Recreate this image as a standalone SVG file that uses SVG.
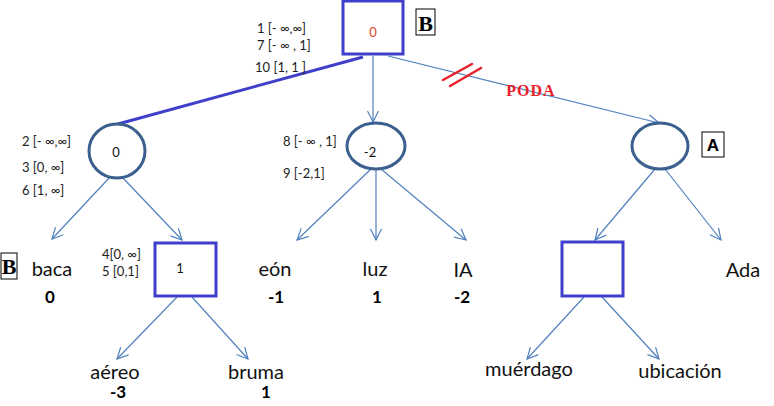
<svg xmlns="http://www.w3.org/2000/svg" width="774" height="406" viewBox="0 0 774 406">
<style>
.lbl{font-family:Lato,"Liberation Sans",sans-serif;font-size:20px;fill:#111}
.val{font-family:Lato,"Liberation Sans",sans-serif;font-size:17px;font-weight:bold;fill:#000}
.sm{font-family:Lato,"Liberation Sans",sans-serif;font-size:13px;fill:#222}
.nv{font-family:Lato,"Liberation Sans",sans-serif;font-size:13px;fill:#111}
.circ{fill:#fff;stroke:#3b5f8e;stroke-width:3}
.sq{fill:#fff;stroke:#3f3fcc;stroke-width:3}
.edge{stroke:#4f81bd;stroke-width:1.2;fill:none;marker-end:url(#arr)}
.tag{fill:#fff;stroke:#000;stroke-width:1}
.tagB{font-family:"Liberation Serif",serif;font-weight:bold;font-size:22px;fill:#000}
</style>
<defs>
<marker id="arr" markerWidth="14" markerHeight="14" refX="12" refY="6" orient="auto" markerUnits="userSpaceOnUse">
<path d="M1,0.5 L12,6 L1,11.5" fill="none" stroke="#4f81bd" stroke-width="1.2"/>
</marker>
</defs>
<rect width="774" height="406" fill="#fff"/>
<g id="connectors">
<line x1="363" y1="57" x2="118" y2="124" stroke="#3f3fcc" stroke-width="3"/>
<line class="edge" x1="373" y1="56" x2="373" y2="122"/>
<line class="edge" x1="388" y1="56" x2="659" y2="123"/>
<line class="edge" x1="110" y1="177" x2="52" y2="239"/>
<line class="edge" x1="122" y1="177" x2="182" y2="240"/>
<line class="edge" x1="371" y1="169" x2="297" y2="240"/>
<line class="edge" x1="376" y1="170" x2="376" y2="240"/>
<line class="edge" x1="381" y1="169" x2="466" y2="240"/>
<line class="edge" x1="655" y1="169" x2="595" y2="240"/>
<line class="edge" x1="665" y1="169" x2="721" y2="240"/>
<line class="edge" x1="177" y1="297" x2="117" y2="359"/>
<line class="edge" x1="192" y1="297" x2="248" y2="359"/>
<line class="edge" x1="584" y1="297" x2="527" y2="359"/>
<line class="edge" x1="602" y1="297" x2="659" y2="359"/>
<line x1="443" y1="80" x2="472" y2="64" stroke="#e8202a" stroke-width="2.5" stroke-linecap="round"/>
<line x1="450" y1="86" x2="481" y2="68" stroke="#e8202a" stroke-width="2.5" stroke-linecap="round"/>
<text x="531" y="96" text-anchor="middle" font-family="'Liberation Serif',serif" font-weight="bold" font-size="16" letter-spacing="1" fill="#e8202a">PODA</text>
</g>
<g id="root">
<rect class="sq" x="343" y="1" width="60" height="53"/>
<text x="373" y="37" text-anchor="middle" class="nv" style="fill:#e0402a">0</text>
<rect class="tag" x="416" y="9" width="19" height="26"/>
<text x="425.5" y="31" text-anchor="middle" class="tagB">B</text>
<text x="257" y="33" class="sm">1 [- ∞,∞]</text>
<text x="257" y="50" class="sm">7 [- ∞ , 1]</text>
<text x="255" y="72" class="sm">10 [1, 1 ]</text>
</g>
<g id="n-left">
<ellipse class="circ" cx="117" cy="151" rx="28" ry="27"/>
<text x="116" y="157" text-anchor="middle" class="nv">0</text>
<text x="22" y="146" class="sm">2  [- ∞,∞]</text>
<text x="22" y="172" class="sm">3 [0, ∞]</text>
<text x="22" y="195" class="sm">6  [1, ∞]</text>
</g>
<g id="n-mid">
<ellipse class="circ" cx="376" cy="146" rx="29" ry="23"/>
<text x="370" y="157" text-anchor="middle" class="nv">-2</text>
<text x="283" y="146" class="sm">8 [- ∞ , 1]</text>
<text x="283" y="178" class="sm">9 [-2,1]</text>
</g>
<g id="n-right">
<ellipse class="circ" cx="660" cy="146" rx="28" ry="23"/>
<rect class="tag" x="702" y="132" width="22" height="25"/>
<text x="713" y="151" text-anchor="middle" font-family="'Liberation Sans',sans-serif" font-weight="bold" font-size="17" fill="#000">A</text>
</g>
<g id="baca">
<rect class="tag" x="1" y="253" width="16" height="26"/>
<text x="9" y="274" text-anchor="middle" class="tagB">B</text>
<text x="52" y="276" text-anchor="middle" class="lbl">baca</text>
<text x="50" y="303" text-anchor="middle" class="val">0</text>
</g>
<g id="sq1">
<rect class="sq" x="155" y="243" width="61" height="53"/>
<text x="180" y="273" text-anchor="middle" class="nv">1</text>
<text x="102" y="259" class="sm">4[0, ∞]</text>
<text x="102" y="276" class="sm">5 [0,1]</text>
</g>
<g id="eon">
<text x="275" y="276" text-anchor="middle" class="lbl">eón</text>
<text x="276" y="303" text-anchor="middle" class="val">-1</text>
</g>
<g id="luz">
<text x="375" y="276" text-anchor="middle" class="lbl">luz</text>
<text x="377" y="303" text-anchor="middle" class="val">1</text>
</g>
<g id="ia">
<text x="463" y="277" text-anchor="middle" class="lbl">IA</text>
<text x="462" y="303" text-anchor="middle" class="val">-2</text>
</g>
<g id="sq2">
<rect class="sq" x="562" y="242" width="61" height="54"/>
</g>
<g id="ada">
<text x="743" y="277" text-anchor="middle" class="lbl">Ada</text>
</g>
<g id="aereo">
<text x="115" y="379" text-anchor="middle" class="lbl">aéreo</text>
<text x="118" y="398" text-anchor="middle" class="val">-3</text>
</g>
<g id="bruma">
<text x="256" y="379" text-anchor="middle" class="lbl">bruma</text>
<text x="266" y="398" text-anchor="middle" class="val">1</text>
</g>
<g id="muerdago">
<text x="529" y="376" text-anchor="middle" class="lbl">muérdago</text>
</g>
<g id="ubicacion">
<text x="680" y="378" text-anchor="middle" class="lbl">ubicación</text>
</g>
</svg>
